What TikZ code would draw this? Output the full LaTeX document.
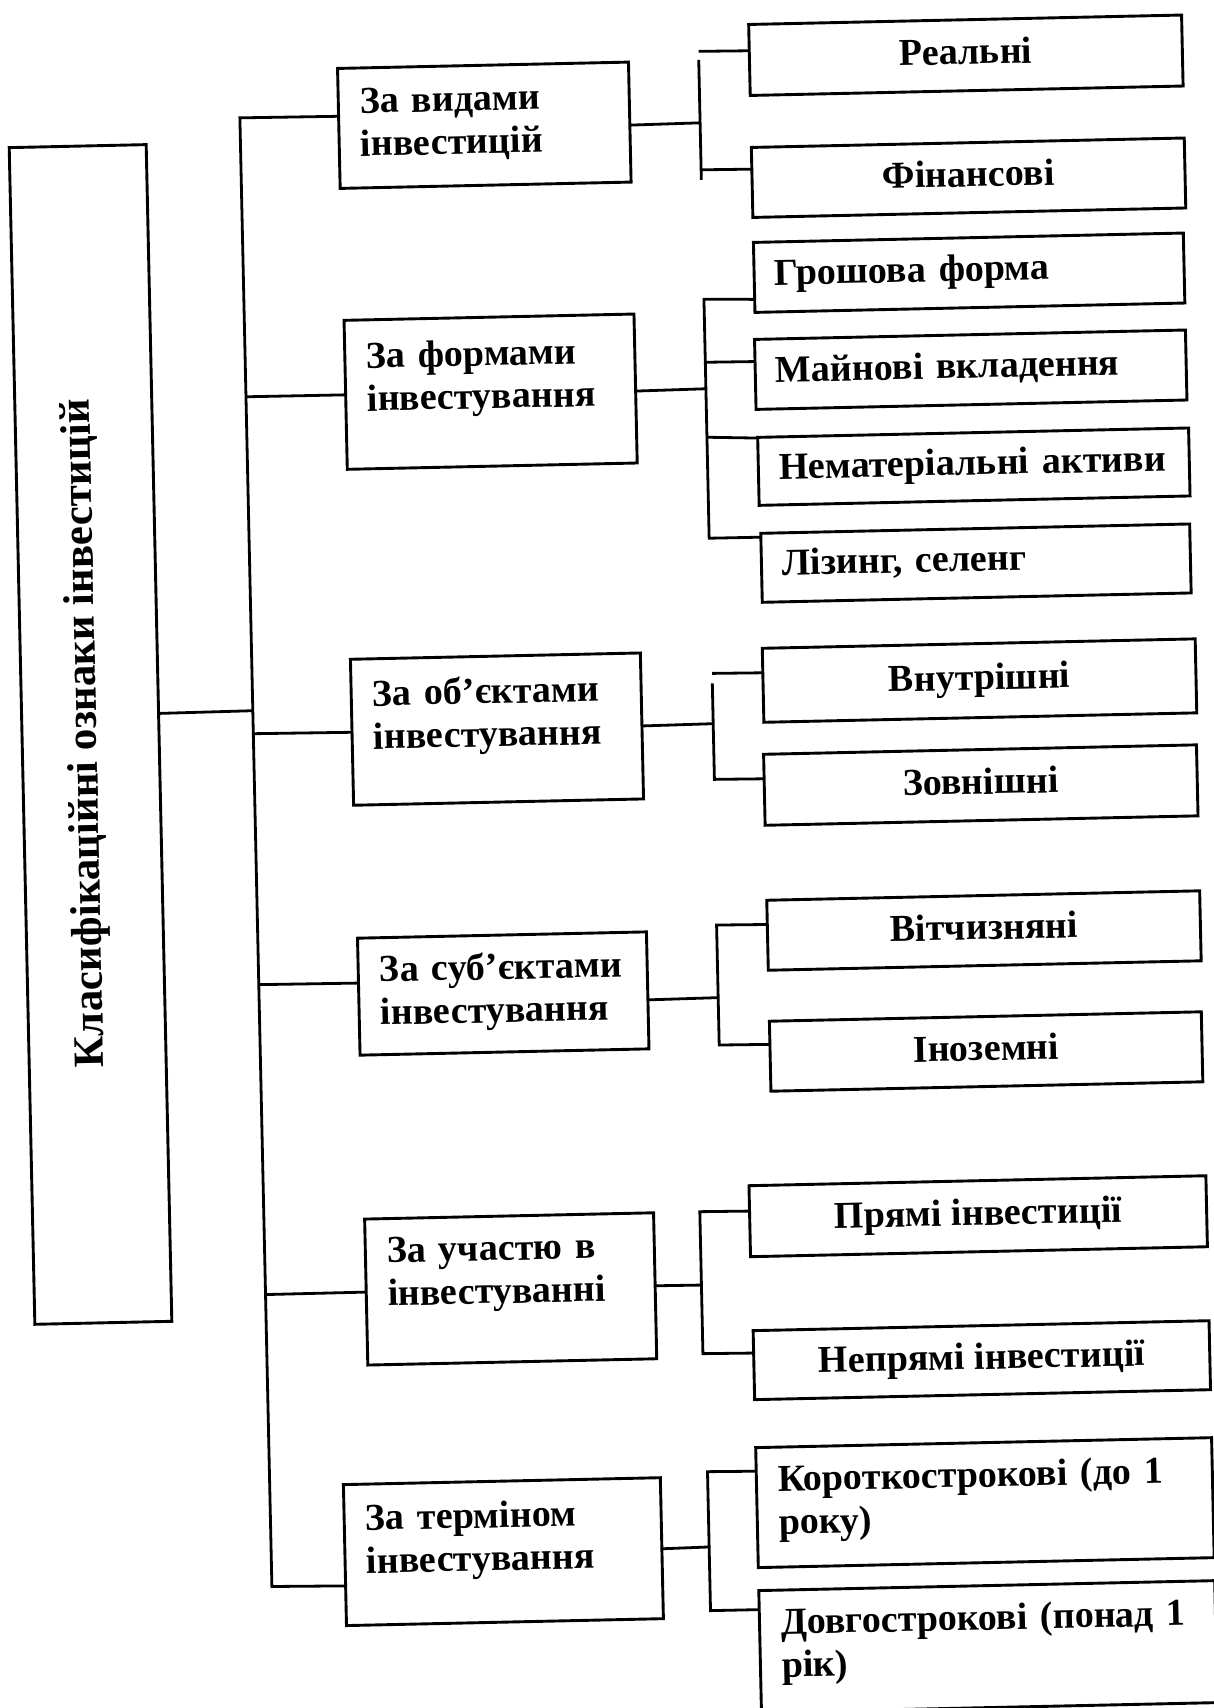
\documentclass[tikz,border=0pt]{standalone}
\usepackage{fontspec}
\setmainfont{Liberation Serif}
\usetikzlibrary{calc}
\begin{document}
\begin{tikzpicture}[x=1pt,y=-1pt,scale=0.5,transform shape,
  bx/.style={draw,line width=1.45pt,inner sep=0pt,anchor=north west,
    font=\fontsize{38}{42}\selectfont\bfseries,text height=26pt,text depth=8pt},
  lbl/.style={anchor=base west,inner sep=0pt,align=left,text width=440pt,
    font=\fontsize{38}{43}\selectfont\bfseries},
  ln/.style={line width=1.4pt}]
\useasboundingbox (0,0) rectangle (1214,1708);
\clip (0,0) rectangle (1214,1708);
\begin{scope}[rotate around={1.25:(607,854)}]
% main box
\node[bx,minimum width=137pt,minimum height=1177pt] (m) at (24,134) {};
\node[rotate=90,inner sep=0pt,font=\fontsize{43}{48}\selectfont\bfseries] (mt) at (89,722) {Класифікаційні ознаки інвестицій};
% level 2
\node[bx,minimum width=291pt,minimum height=120pt] (l1) at (354,62) {};
\node[lbl] (t1) at (376,108) {За видами\\інвестицій};
\node[bx,minimum width=290pt,minimum height=149pt] (l2) at (355,314) {};
\node[lbl] (t2) at (377,363) {За формами\\інвестування};
\node[bx,minimum width=290pt,minimum height=146pt] (l3) at (354,653) {};
\node[lbl] (t3) at (376,701) {За об’єктами\\інвестування};
\node[bx,minimum width=289pt,minimum height=117pt] (l4) at (355,932) {};
\node[lbl] (t4) at (377,977) {За суб’єктами\\інвестування};
\node[bx,minimum width=289pt,minimum height=146pt] (l5) at (356,1213) {};
\node[lbl] (t5) at (378,1258) {За участю в\\інвестуванні};
\node[bx,minimum width=317pt,minimum height=141pt] (l6) at (329,1478) {};
\node[lbl] (t6) at (351,1525) {За терміном\\інвестування};
% level 3
\node[bx,minimum width=433pt,minimum height=71pt] (r1) at (766,27) {Реальні};
\node[bx,minimum width=433pt,minimum height=70pt] (r2) at (766,150) {Фінансові};
\node[bx,minimum width=430pt,minimum height=70pt] (r3) at (766,245) {};
\node[lbl] (u3) at (787,289) {Грошова форма};
\node[bx,minimum width=431pt,minimum height=70pt] (r4) at (765,342) {};
\node[lbl] (u4) at (786,386) {Майнові вкладення};
\node[bx,minimum width=431pt,minimum height=68pt] (r5) at (766,440) {};
\node[lbl] (u5) at (787,483) {Нематеріальні активи};
\node[bx,minimum width=429pt,minimum height=69pt] (r6) at (767,536) {};
\node[lbl] (u6) at (788,579) {Лізинг, селенг};
\node[bx,minimum width=433pt,minimum height=74pt] (r7) at (766,651) {Внутрішні};
\node[bx,minimum width=433pt,minimum height=71pt] (r8) at (765,757) {Зовнішні};
\node[bx,minimum width=433pt,minimum height=70pt] (r9) at (765,903) {Вітчизняні};
\node[bx,minimum width=432pt,minimum height=70pt] (r10) at (765,1024) {Іноземні};
\node[bx,minimum width=457pt,minimum height=71pt] (r11) at (741,1188) {Прямі інвестиції};
\node[bx,minimum width=456pt,minimum height=69pt] (r12) at (742,1333) {Непрямі інвестиції};
\node[bx,minimum width=456pt,minimum height=120pt] (r13) at (742,1450) {};
\node[lbl] (u13) at (764,1495) {Короткострокові (до 1\\року)};
\node[bx,minimum width=456pt,minimum height=122pt] (r14) at (742,1593) {};
\node[lbl] (u14) at (764,1638) {Довгострокові (понад 1\\рік)};
% trunk
\coordinate (tm) at (256,703);
\coordinate (ta) at (256,110);
\coordinate (tb) at (256,389);
\coordinate (tc) at (256,726);
\coordinate (td) at (256,977);
\coordinate (te) at (256,1287);
\coordinate (tf) at (256,1579);
\draw[ln] ($(l1.north west)!0.4!(l1.south west)$) -- (ta) -- (tf) -- ($(l6.north west)!0.716!(l6.south west)$);
\draw[ln] ($(m.north east)!0.4834!(m.south east)$) -- (tm);
\draw[ln] (tb) -- (l2.west);
\draw[ln] (tc) -- (l3.west);
\draw[ln] (td) -- ($(l4.north west)!0.385!(l4.south west)$);
\draw[ln] (te) -- (l5.west);
% group 1
\coordinate (sa) at (716,125);
\coordinate (sa0) at (716,53.5);
\coordinate (sa1) at (716,62);
\coordinate (sa2) at (716,182);
\coordinate (sa3) at (716,172);
\draw[ln] ($(l1.north east)!0.525!(l1.south east)$) -- (sa);
\draw[ln] (sa0) -- ($(r1.north west)!0.373!(r1.south west)$);
\draw[ln] (sa1) -- (sa2);
\draw[ln] (sa3) -- ($(r2.north west)!0.314!(r2.south west)$);
% group 2
\coordinate (sb) at (716,391);
\coordinate (sb1) at (716,301.5);
\coordinate (sb2) at (716,364.5);
\coordinate (sb3) at (716,439.5);
\coordinate (sb4) at (716,540.5);
\draw[ln] ($(r3.north west)!0.807!(r3.south west)$) -- (sb1) -- (sb4) -- ($(r6.north west)!0.065!(r6.south west)$);
\draw[ln] (sb2) -- ($(r4.north west)!0.32!(r4.south west)$);
\draw[ln] (sb3) -- ($(r5.north west)!0.02!(r5.south west)$);
\draw[ln] ($(l2.north east)!0.517!(l2.south east)$) -- (sb);
% group 3
\coordinate (sc) at (716,726);
\coordinate (sc0) at (716,675.7);
\coordinate (sc1) at (716,685.7);
\coordinate (sc2) at (716,781.7);
\draw[ln] (sc0) -- ($(r7.north west)!0.334!(r7.south west)$);
\draw[ln] (sc1) -- (sc2) -- ($(r8.north west)!0.348!(r8.south west)$);
\draw[ln] (l3.east) -- (sc);
% group 4
\coordinate (sd) at (715,1000);
\coordinate (sd1) at (715,927.4);
\coordinate (sd2) at (715,1047.4);
\draw[ln] ($(r9.north west)!0.349!(r9.south west)$) -- (sd1) -- (sd2) -- ($(r10.north west)!0.334!(r10.south west)$);
\draw[ln] ($(l4.north east)!0.58!(l4.south east)$) -- (sd);
% group 5
\coordinate (se) at (692,1287);
\coordinate (se1) at (692,1213.6);
\coordinate (se2) at (692,1355.6);
\draw[ln] ($(r11.north west)!0.36!(r11.south west)$) -- (se1) -- (se2) -- ($(r12.north west)!0.328!(r12.south west)$);
\draw[ln] (l5.east) -- (se);
% group 6
\coordinate (sf) at (694,1549);
\coordinate (sf1) at (694,1473.7);
\coordinate (sf2) at (694,1612.7);
\draw[ln] ($(r13.north west)!0.2!(r13.south west)$) -- (sf1) -- (sf2) -- ($(r14.north west)!0.16!(r14.south west)$);
\draw[ln] ($(l6.north east)!0.504!(l6.south east)$) -- (sf);
\end{scope}
\end{tikzpicture}
\end{document}
